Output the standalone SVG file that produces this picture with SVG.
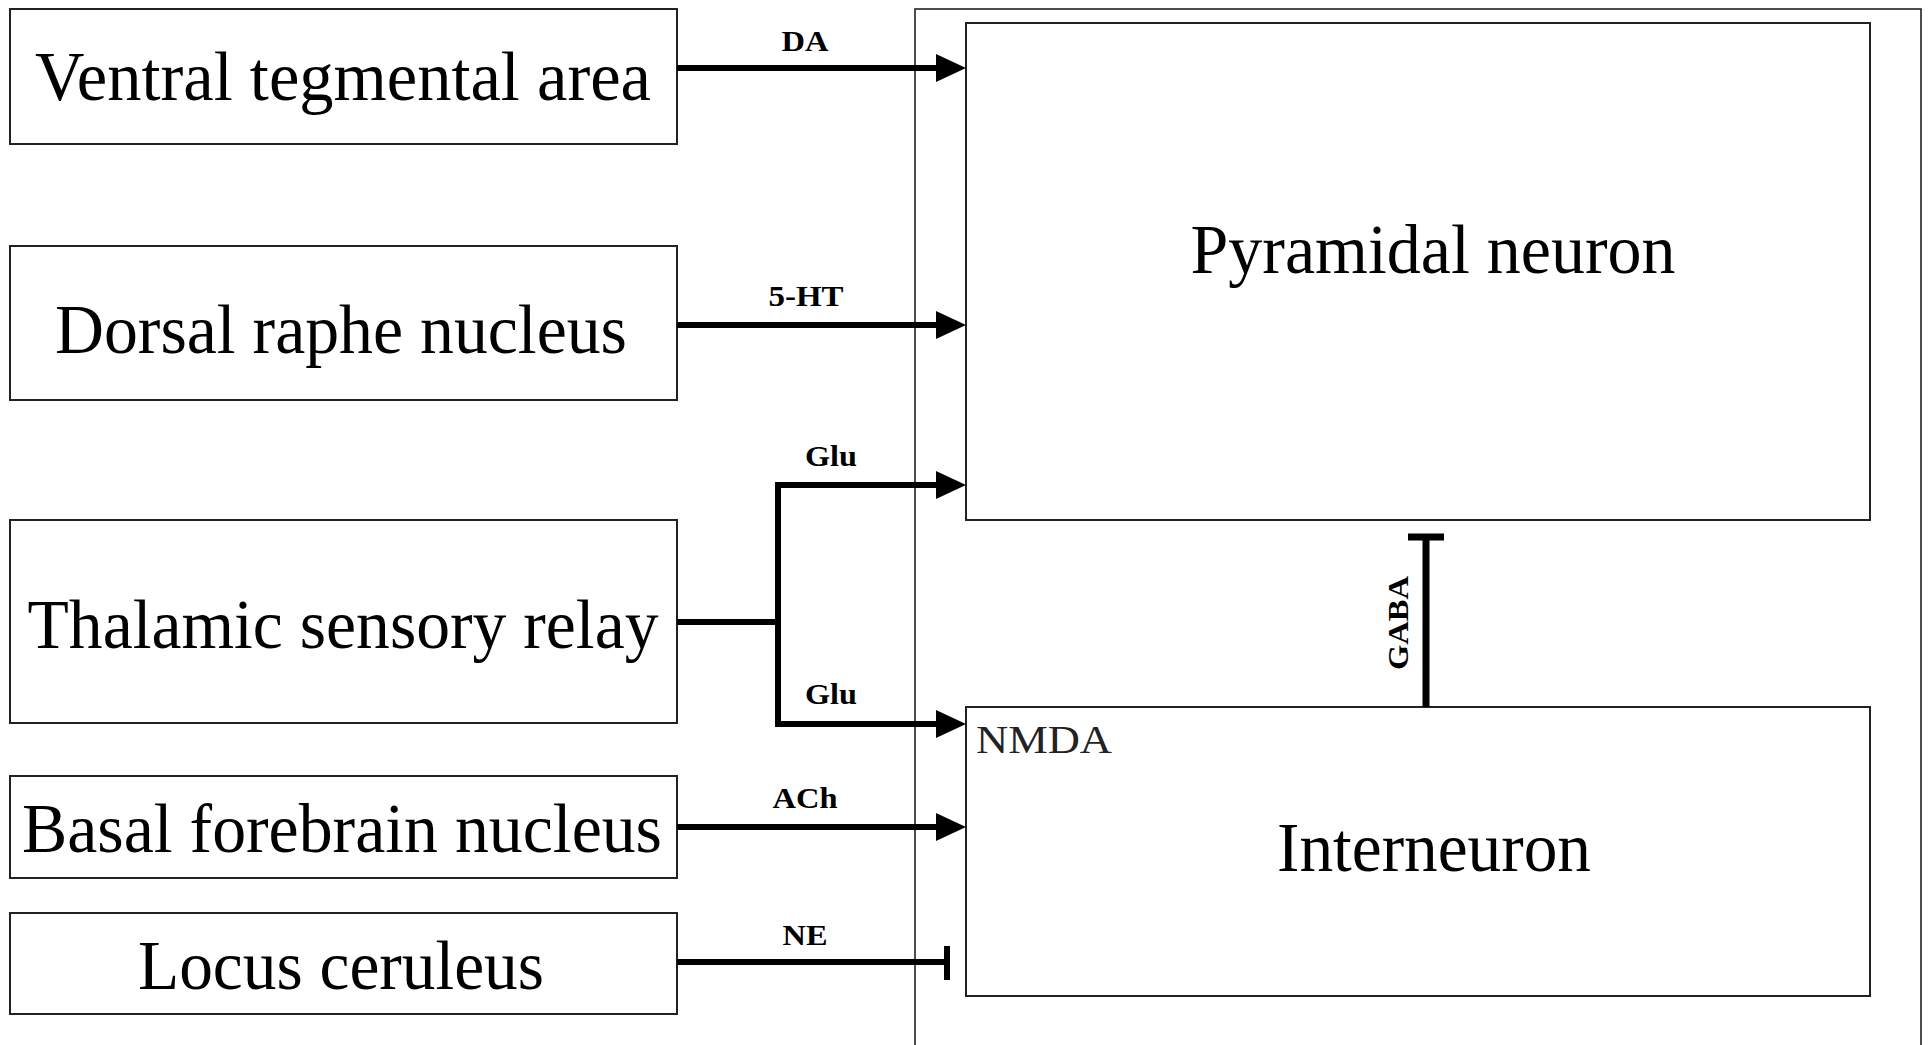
<svg xmlns="http://www.w3.org/2000/svg" width="1929" height="1045" viewBox="0 0 1929 1045">
<style>
.box{fill:#fff;stroke:#222;stroke-width:2}
.outer{fill:none;stroke:#222;stroke-width:1.6}
.big{font-family:"Liberation Serif","Times New Roman",serif;font-size:70px;fill:#000;text-anchor:middle}
.lbl{font-family:"Liberation Serif","Times New Roman",serif;font-size:30px;font-weight:bold;fill:#000;text-anchor:middle}
.nmda{font-family:"Liberation Serif","Times New Roman",serif;font-size:40px;fill:#222}
.conn{fill:none;stroke:#000;stroke-width:6}
</style>
<defs>
<marker id="arr" markerUnits="userSpaceOnUse" markerWidth="30" markerHeight="28" refX="14" refY="14" orient="auto" viewBox="0 0 30 28">
<path d="M0,0 L30,14 L0,28 z" fill="#000"/>
</marker>
</defs>
<rect class="outer" x="915" y="9" width="1006" height="1100"/>
<g id="vta"><rect class="box" x="10" y="9" width="667" height="135"/><text class="big" x="343" y="100" textLength="616" lengthAdjust="spacingAndGlyphs">Ventral tegmental area</text></g>
<g id="drn"><rect class="box" x="10" y="246" width="667" height="154"/><text class="big" x="341" y="353" textLength="572" lengthAdjust="spacingAndGlyphs">Dorsal raphe nucleus</text></g>
<g id="thal"><rect class="box" x="10" y="520" width="667" height="203"/><text class="big" x="343" y="648" textLength="631" lengthAdjust="spacingAndGlyphs">Thalamic sensory relay</text></g>
<g id="basal"><rect class="box" x="10" y="776" width="667" height="102"/><text class="big" x="342" y="852" textLength="640" lengthAdjust="spacingAndGlyphs">Basal forebrain nucleus</text></g>
<g id="locus"><rect class="box" x="10" y="913" width="667" height="101"/><text class="big" x="341" y="989" textLength="406" lengthAdjust="spacingAndGlyphs">Locus ceruleus</text></g>
<g id="pyramidal"><rect class="box" x="966" y="23" width="904" height="497"/><text class="big" x="1433" y="273" textLength="485" lengthAdjust="spacingAndGlyphs">Pyramidal neuron</text></g>
<g id="interneuron"><rect class="box" x="966" y="707" width="904" height="289"/><text class="nmda" x="976" y="753" textLength="136" lengthAdjust="spacingAndGlyphs">NMDA</text><text class="big" x="1434" y="871" textLength="314" lengthAdjust="spacingAndGlyphs">Interneuron</text></g>
<g id="connectors">
<line class="conn" x1="677" y1="68" x2="950" y2="68" marker-end="url(#arr)"/>
<text class="lbl" x="805" y="51" textLength="47" lengthAdjust="spacingAndGlyphs">DA</text>
<line class="conn" x1="677" y1="325" x2="950" y2="325" marker-end="url(#arr)"/>
<text class="lbl" x="806" y="306" textLength="75" lengthAdjust="spacingAndGlyphs">5-HT</text>
<path class="conn" d="M677,622 H778"/>
<path class="conn" d="M778,488 V724" style="stroke-linecap:square"/>
<line class="conn" x1="775" y1="485" x2="950" y2="485" marker-end="url(#arr)"/>
<line class="conn" x1="775" y1="724" x2="950" y2="724" marker-end="url(#arr)"/>
<text class="lbl" x="831" y="466" textLength="52" lengthAdjust="spacingAndGlyphs">Glu</text>
<text class="lbl" x="831" y="704" textLength="52" lengthAdjust="spacingAndGlyphs">Glu</text>
<line class="conn" x1="677" y1="827" x2="950" y2="827" marker-end="url(#arr)"/>
<text class="lbl" x="805" y="808" textLength="65" lengthAdjust="spacingAndGlyphs">ACh</text>
<path class="conn" d="M677,962 H947 M947,946 V980"/>
<text class="lbl" x="805" y="945" textLength="45" lengthAdjust="spacingAndGlyphs">NE</text>
<path class="conn" d="M1426,707 V537 M1408,537 H1444" style="stroke-width:7"/>
<text class="lbl" transform="translate(1408,623) rotate(-90)" x="0" y="0" textLength="94" lengthAdjust="spacingAndGlyphs">GABA</text>
</g>
</svg>
